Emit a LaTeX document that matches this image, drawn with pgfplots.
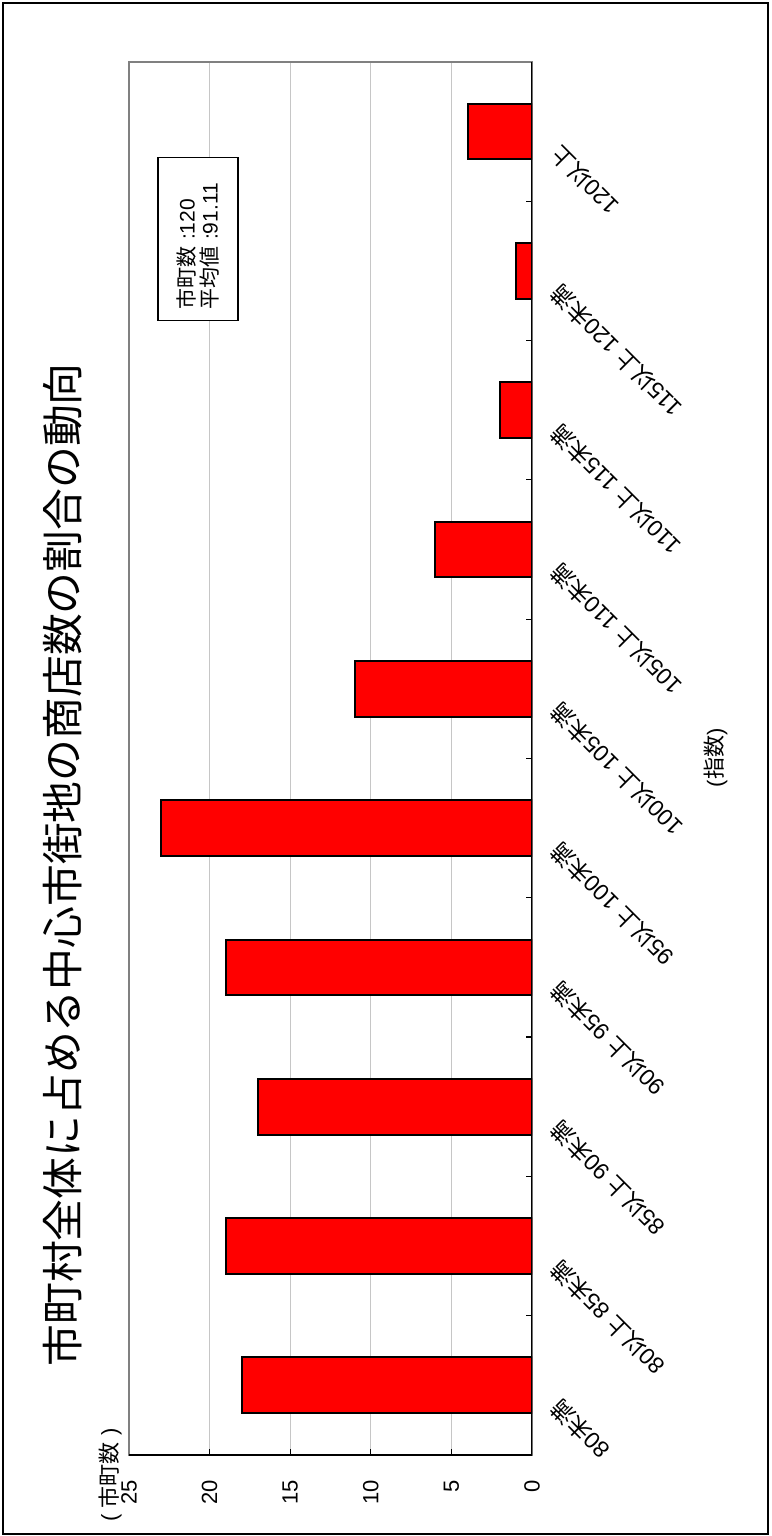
\documentclass[border=0pt]{standalone}
\usepackage{fontspec}
\setmainfont{Liberation Sans}
\newfontfamily\cjk{Noto Sans CJK JP}
\usepackage{pgfplots}
\pgfplotsset{compat=1.18}
\begin{document}
\begin{tikzpicture}
\useasboundingbox (-64.5pt,-40.5pt) rectangle (321pt,727.5pt);
\draw[black, line width=0.8pt] (-63pt,-39.5pt) rectangle (319.5pt,726pt);
\begin{axis}[
  scale only axis, width=201.5pt, height=696.5pt,
  xbar, bar width=0.4, x dir=reverse,
  xmin=0, xmax=25, ymin=-0.5, ymax=9.5,
  xtick={0,5,...,25},
  ytick={-0.5,0.5,...,9.5}, yticklabels={},
  extra y ticks={-0.1,0.9,1.9,2.9,3.9,4.9,5.9,6.9,7.9,8.9},
  extra y tick labels={80{\cjk 未満},80{\cjk 以上} 85{\cjk 未満},85{\cjk 以上} 90{\cjk 未満},90{\cjk 以上} 95{\cjk 未満},95{\cjk 以上} 100{\cjk 未満},100{\cjk 以上} 105{\cjk 未満},105{\cjk 以上} 110{\cjk 未満},110{\cjk 以上} 115{\cjk 未満},115{\cjk 以上} 120{\cjk 未満},120{\cjk 以上}},
  extra y tick style={major tick length=0pt, yticklabel style={rotate=135, anchor=east, font=\fontsize{11.5}{13}\selectfont}},
  yticklabel shift=9pt,
  tick align=inside, major tick length=3pt,
  xtick pos=left, ytick pos=right, yticklabel pos=right,
  xmajorgrids, grid style={gray!45, line width=0.5pt},
  axis line style={draw=gray, line width=1pt},
  xticklabel style={rotate=90, anchor=east, font=\fontsize{11}{13}\selectfont},
  xticklabel shift=9pt,
  /pgf/number format/assume math mode=true,
  tick style={black, line width=0.6pt},
]
\addplot[fill=red, draw=black, line width=1pt] coordinates {(18,0) (19,1) (17,2) (19,3) (23,4) (11,5) (6,6) (2,7) (1,8) (4,9)};
\draw[black, line width=1pt] (axis cs:0,-0.5) -- (axis cs:0,9.5);
\draw[black, line width=1pt] (axis cs:0,-0.5) -- (axis cs:25,-0.5);
\end{axis}
\node[rotate=90, font=\fontsize{20.9}{24}\selectfont\cjk] at (-33pt,295pt) {市町村全体に占める中心市街地の商店数の割合の動向};
\node[rotate=90, font=\fontsize{11}{13}\selectfont] at (293.5pt,348.5pt) {({\cjk 指数})};
\node[rotate=90, font=\fontsize{11}{13}\selectfont] at (-9.5pt,-10pt) {( {\cjk 市町数} )};
\node[rotate=90, draw=black, line width=0.8pt, fill=white, align=left, text width=71pt, inner xsep=5.25pt, minimum height=40pt, inner ysep=3pt, font=\fontsize{10.5}{11.5}\selectfont] at (34.5pt,608pt) {{\cjk 市町数} :120\\{\cjk 平均値} :91.11};
\end{tikzpicture}
\end{document}
